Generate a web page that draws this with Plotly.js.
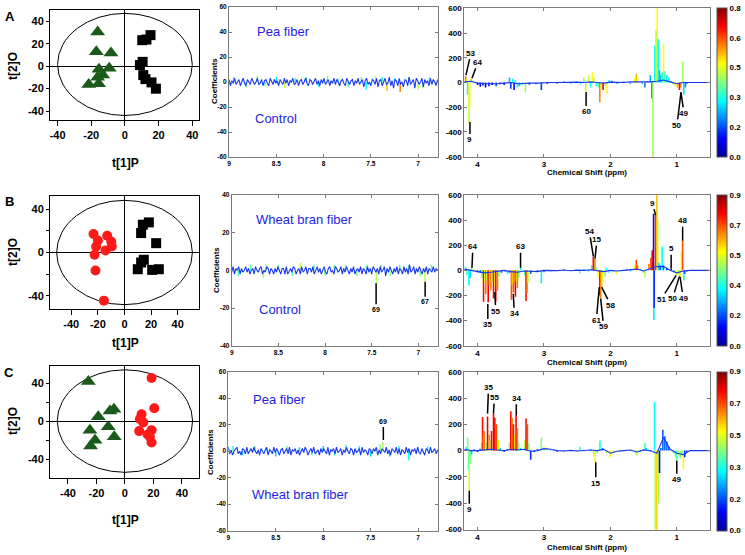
<!DOCTYPE html>
<html><head><meta charset="utf-8">
<script src="https://cdn.plot.ly/plotly-3.0.1.min.js"></script>
<style>html,body{margin:0;padding:0;background:#fff}#chart{width:745px;height:555px}</style>
</head><body><div id="chart"></div>
<script>
// ================= DATA =================
// Score plots (OPLS-DA): t[1]P vs t[2]O
const A_tri_x = [-16.2, -17.0, -8.3, -9.3, -15.4, -13.2, -16.2, -15.6, -21.5];
const A_tri_y = [30.5, 12.7, 11.8, -2.0, -2.7, -8.0, -10.0, -15.6, -16.4];
const A_sq_x  = [10.3, 12.8, 15.2, 10.5, 8.9, 10.9, 12.2, 15.8, 18.4];
const A_sq_y  = [23.1, 23.7, 27.6, 3.8, 0.9, -8.0, -11.6, -14.5, -20.1];
const B_circ_x = [-23.3, -20.0, -21.3, -22.5, -13.0, -10.0, -9.5, -14.3, -21.8, -15.5];
const B_circ_y = [17.0, 11.1, 5.5, -2.1, 15.4, 10.2, 5.5, 1.8, -16.6, -44.3];
const B_sq_x   = [13.8, 18.3, 12.5, 23.8, 14.5, 12.5, 10.0, 20.8, 25.8];
const B_sq_y   = [25.6, 27.7, 17.9, 8.6, -6.7, -9.2, -15.4, -16.0, -15.4];
const C_tri_x  = [-25.7, -18.7, -10.5, -7.7, -11.7, -24.6, -7.5, -21.0, -24.1];
const C_tri_y  = [41.7, 4.6, 10.6, 12.4, -6.0, -9.6, -16.6, -20.2, -26.2];
const C_circ_x = [18.7, 20.6, 11.7, 10.5, 12.9, 10.0, 15.9, 18.7, 17.5, 18.7];
const C_circ_y = [45.3, 13.4, 7.1, 2.1, -1.4, -10.6, -14.2, -9.6, -16.6, -22.6];
// Hotelling T2 ellipse bounds [x0, x1, y0, y1]
const A_ellipse = [-40, 40, -44, 47];
const B_ellipse = [-51, 51, -48, 48];
const C_ellipse = [-47.5, 47.5, -54, 54];

// Aromatic region (9.0 -> 6.8 ppm, 0.015 ppm bins) coefficients
const midA_noise = [
2,-3,1,-1,3,-2,0,2,-3,1,3,-1,-3,2,0,-2,3,1,-2,0,
3,-2,-1,2,-3,1,2,-1,-3,3,0,-2,2,-1,1,-3,2,0,-2,3,
-1,2,-3,1,0,3,-2,-1,2,-3,1,2,-2,0,3,-1,-3,2,1,-2,
0,3,-2,1,-3,2,-1,3,-2,0,2,-3,1,-1,3,-2,2,0,-3,1,
2,-1,-3,3,0,-2,1,2,-3,1,-1,3,-2,0,2,-4,1,3,-2,0,
-3,2,1,-2,3,-4,1,2,-3,0,3,-2,-1,4,-3,1,-5,2,1,-3,
3,-2,0,-4,2,1,-3,4,-2,0,2,-5,3,1,-2,0,3,-4,2,-1,
1,-3,3,-2,2,0,-3,2];
const midB_noise = [
-1,2,-2,1,0,2,-2,1,-1,0,2,-1,1,-2,0,1,-2,2,0,-1,
1,2,-2,0,-1,2,1,-2,1,0,-2,1,-1,2,0,-2,1,1,-2,2,
-2,0,1,-1,2,1,-2,0,1,-2,2,-1,0,2,-2,1,1,-1,2,-2,
0,2,-1,1,-2,0,2,-1,-2,1,2,-1,0,-2,2,1,-1,0,2,-2,
1,-1,2,0,-2,1,-1,2,-2,0,1,-1,2,-2,1,0,-2,2,-1,1,
-2,2,0,-1,1,-2,2,-1,0,2,-3,1,-1,2,0,-2,1,-1,2,-2,
1,0,-2,2,-1,1,-2,3,-1,0,2,-2,1,-1,2,0,-2,1,-1,2,
-2,1,0,-1,2,-1,1,0];
const midC_noise = [
3,-2,1,-3,0,2,3,-2,0,-3,2,1,-2,3,-2,0,2,-1,3,0,
-2,1,-3,2,0,-2,1,3,-3,1,0,-2,3,-1,2,0,-3,1,2,-2,
0,2,-2,3,-3,1,0,2,-2,1,-3,0,2,-1,3,1,-3,0,2,-1,
3,-2,0,1,-3,2,-1,2,0,-2,3,-3,1,0,2,-2,3,-1,0,2,
-3,1,-1,3,0,-2,2,1,-3,2,-1,0,2,-3,3,-1,1,0,-3,2,
1,-2,2,0,3,-3,1,-2,2,0,-1,3,-2,1,-3,2,0,-1,3,-2,
2,-3,1,0,-2,3,-1,2,-3,1,0,2,-2,3,-1,-2,2,0,-3,2,
1,-2,3,-1,0,2,-2,1];
const midA_spk_x = [8.95, 8.82, 8.7, 8.62, 8.5, 8.41, 8.3, 8.18, 8.05, 7.96, 7.85, 7.74, 7.6, 7.55, 7.45, 7.38, 7.33, 7.25, 7.19, 7.1, 7.0, 6.95, 6.88];
const midA_spk_y = [4, -4, 5, -3, 4, -5, 3, 4, -4, 5, 3, -4, 4, -6, 5, 4, -7, 3, -8, 4, -6, -5, 4];
const midA_spk_c = [0.35, 0.3, 0.4, 0.35, 0.3, 0.45, 0.3, 0.35, 0.3, 0.4, 0.3, 0.35, 0.4, 0.3, 0.45, 0.35, 0.55, 0.3, 0.6, 0.35, 0.45, 0.4, 0.35];
const midB_spk_x = [8.93, 8.8, 8.66, 8.63, 8.5, 8.35, 8.26, 8.12, 8.0, 7.9, 7.78, 7.66, 7.55, 7.45, 7.4, 7.3, 7.2, 7.1, 6.98, 6.93, 6.86];
const midB_spk_y = [-3, 3, -4, 3, 3, -3, 4, 3, -3, 3, 3, -3, 3, -7, 3, -3, 3, 3, -3, -6, 3];
const midB_spk_c = [0.4, 0.4, 0.5, 0.45, 0.4, 0.4, 0.5, 0.4, 0.45, 0.4, 0.4, 0.45, 0.4, 0.5, 0.4, 0.45, 0.4, 0.4, 0.45, 0.5, 0.4];
const midC_spk_x = [8.95, 8.85, 8.72, 8.6, 8.5, 8.38, 8.25, 8.12, 8.0, 7.88, 7.76, 7.62, 7.5, 7.4, 7.37, 7.3, 7.2, 7.1, 7.0, 6.9];
const midC_spk_y = [4, -3, 4, 3, -4, 4, 3, -3, 4, -3, 5, 4, -4, 5, 7, -4, 4, -7, 3, 4];
const midC_spk_c = [0.35, 0.3, 0.4, 0.35, 0.3, 0.45, 0.3, 0.35, 0.3, 0.35, 0.4, 0.35, 0.3, 0.45, 0.5, 0.3, 0.35, 0.35, 0.4, 0.35];

// Aliphatic region (4.2 -> 0.5 ppm): baseline (0.1 ppm steps) and peaks (ppm, coefficient, correlation)
const A_base = [5, 10, -5, -10, -8, -10, -5, 0, -10, -5, -5, -5, 0, 0, 0, 2, -2, 3, 0, 5, 0, -5, 3, 0, 0, 5, 5, 0, 5, 10, 20, 5, -10, 0, -3, 0, 0, 0];
const B_base = [10, 0, -10, -20, -15, -10, 0, -10, -15, -5, -5, -10, 0, -3, -2, 3, -3, 2, 0, 5, 0, -10, 0, -5, 0, 5, 10, -5, 10, 30, 30, 0, -20, -5, 0, 0, 0, 0];
const C_base = [10, 0, 0, 5, 10, 5, 0, 10, 5, 10, -5, 0, 15, 10, 0, -3, 2, -3, 0, 5, 0, 10, -20, -5, 0, 5, -10, 5, 0, -20, 100, 10, -20, -30, 0, 0, 0, 0];

const A_ppm  = [4.18, 4.165, 4.15, 4.13, 4.12, 4.10, 4.09, 4.0, 3.96, 3.92, 3.88, 3.83, 3.78, 3.72, 3.66, 3.6, 3.52, 3.50, 3.47, 3.45, 3.43, 3.40, 3.37, 3.33, 3.28, 3.22, 3.12, 3.04, 2.95, 2.8, 2.7, 2.6, 2.5, 2.45, 2.40, 2.37, 2.33, 2.30, 2.27, 2.25, 2.21, 2.18, 2.16, 2.14, 2.11, 2.07, 2.05, 2.02, 1.98, 1.9, 1.8, 1.7, 1.63, 1.61, 1.59, 1.52, 1.48, 1.44, 1.40, 1.37, 1.36, 1.33, 1.31, 1.295, 1.28, 1.26, 1.24, 1.22, 1.20, 1.18, 1.15, 1.12, 1.08, 1.05, 1.02, 0.99, 0.96, 0.94, 0.91, 0.895, 0.87, 0.85, 0.8];
const A_coef = [50, 30, -100, -330, -200, 30, 20, -20, -35, -25, -40, -30, -20, -30, -15, -20, 40, -50, 30, -60, 20, -40, -30, -20, -80, -20, -15, -60, -10, -8, 8, -10, 10, -15, 40, -70, 60, -40, 80, 40, -30, -40, -160, -60, -60, -30, -90, 20, 15, -10, 10, -10, 40, 70, 40, -10, -40, 10, 60, -130, -650, 300, 420, 650, 350, 100, 60, 80, 310, 90, 60, 40, 15, -20, -35, -45, -60, -40, 170, -100, -40, -10, -5];
const A_corr = [0.62, 0.5, 0.3, 0.45, 0.5, 0.55, 0.4, 0.1, 0.1, 0.12, 0.1, 0.12, 0.1, 0.15, 0.1, 0.1, 0.25, 0.15, 0.3, 0.1, 0.3, 0.3, 0.25, 0.35, 0.42, 0.2, 0.2, 0.15, 0.1, 0.1, 0.2, 0.25, 0.3, 0.3, 0.42, 0.45, 0.45, 0.3, 0.5, 0.45, 0.3, 0.4, 0.6, 0.45, 0.7, 0.4, 0.5, 0.3, 0.2, 0.2, 0.25, 0.2, 0.5, 0.55, 0.5, 0.2, 0.2, 0.2, 0.25, 0.1, 0.42, 0.3, 0.4, 0.5, 0.3, 0.25, 0.25, 0.3, 0.5, 0.35, 0.3, 0.3, 0.3, 0.45, 0.5, 0.55, 0.7, 0.6, 0.42, 0.28, 0.2, 0.15, 0.1];

const B_ppm  = [4.18, 4.16, 4.13, 4.11, 4.09, 4.06, 4.0, 3.96, 3.93, 3.91, 3.89, 3.876, 3.86, 3.84, 3.82, 3.80, 3.78, 3.76, 3.74, 3.726, 3.70, 3.68, 3.64, 3.58, 3.55, 3.52, 3.49, 3.475, 3.46, 3.445, 3.43, 3.415, 3.40, 3.38, 3.35, 3.29, 3.27, 3.255, 3.24, 3.2, 3.1, 3.04, 3.0, 2.9, 2.8, 2.7, 2.6, 2.5, 2.46, 2.4, 2.33, 2.28, 2.257, 2.232, 2.21, 2.18, 2.16, 2.146, 2.131, 2.11, 2.08, 2.06, 2.03, 1.95, 1.91, 1.85, 1.75, 1.7, 1.64, 1.61, 1.59, 1.55, 1.50, 1.48, 1.45, 1.42, 1.39, 1.37, 1.35, 1.345, 1.34, 1.32, 1.30, 1.285, 1.27, 1.25, 1.22, 1.2, 1.15, 1.085, 1.04, 1.01, 0.98, 0.96, 0.95, 0.93, 0.912, 0.895, 0.88, 0.85];
const B_coef = [30, -40, -120, -60, 30, 15, -15, -20, -60, -250, -100, -190, -80, -255, -120, -160, -90, -225, -130, -250, -160, -50, -20, -10, -30, -20, -235, -120, -175, -100, -210, -90, -140, -60, 20, -40, -245, -180, -100, -30, -10, -105, -15, -8, -5, 6, -6, 5, -30, 10, -10, 40, 110, 90, 20, -60, -200, -230, -135, -90, -50, 20, -20, -10, -30, -5, 8, -8, 40, 85, 40, 10, -20, -55, 10, 50, 100, 160, 450, -395, -300, 440, 650, 400, 60, 40, 190, 40, 20, 13, -15, -40, -30, -50, -53, 150, 235, -80, -30, -10];
const B_corr = [0.34, 0.4, 0.34, 0.3, 0.45, 0.56, 0.15, 0.2, 0.45, 0.78, 0.56, 0.68, 0.5, 0.8, 0.6, 0.68, 0.5, 0.78, 0.6, 0.8, 0.68, 0.45, 0.2, 0.15, 0.34, 0.2, 0.72, 0.56, 0.72, 0.6, 0.8, 0.56, 0.68, 0.45, 0.34, 0.4, 0.78, 0.68, 0.5, 0.2, 0.15, 0.34, 0.2, 0.15, 0.15, 0.2, 0.2, 0.3, 0.45, 0.34, 0.3, 0.34, 0.78, 0.68, 0.45, 0.56, 0.78, 0.68, 0.6, 0.56, 0.45, 0.34, 0.34, 0.3, 0.56, 0.2, 0.2, 0.3, 0.56, 0.72, 0.68, 0.3, 0.4, 0.5, 0.3, 0.68, 0.72, 0.78, 0.12, 0.32, 0.15, 0.75, 0.62, 0.5, 0.3, 0.2, 0.34, 0.2, 0.15, 0.15, 0.3, 0.56, 0.5, 0.45, 0.56, 0.56, 0.72, 0.34, 0.2, 0.15];

const C_ppm  = [4.17, 4.15, 4.135, 4.125, 4.11, 4.09, 4.05, 4.0, 3.96, 3.94, 3.925, 3.91, 3.90, 3.87, 3.85, 3.826, 3.81, 3.79, 3.76, 3.74, 3.716, 3.69, 3.66, 3.6, 3.55, 3.52, 3.50, 3.48, 3.46, 3.44, 3.42, 3.40, 3.38, 3.35, 3.29, 3.27, 3.25, 3.23, 3.20, 3.15, 3.1, 3.04, 3.0, 2.95, 2.9, 2.8, 2.7, 2.6, 2.5, 2.456, 2.4, 2.3, 2.25, 2.23, 2.2, 2.157, 2.12, 2.06, 2.0, 1.95, 1.85, 1.7, 1.62, 1.6, 1.55, 1.5, 1.48, 1.46, 1.4, 1.335, 1.325, 1.30, 1.28, 1.26, 1.24, 1.21, 1.18, 1.15, 1.12, 1.05, 1.02, 1.0, 0.98, 0.95, 0.92, 0.9, 0.88, 0.85];
const C_coef = [30, 100, -150, -306, -100, -30, 10, -10, 15, 60, 255, 120, 150, 60, 260, 120, 80, 150, 280, 250, 200, 80, 20, -10, 10, 60, 300, 250, 200, 120, 270, 170, 60, 20, 80, 245, 200, 60, -70, -10, 10, 100, 30, 20, 10, -8, -5, 5, -5, 30, -5, 10, -40, -90, -20, 77, 20, -20, -50, -20, -5, 5, -20, -40, -10, 10, 60, 20, -5, 370, -650, -650, -400, -170, 20, 158, 110, 70, 30, -20, -50, -77, -40, -60, -30, -140, -50, -10];
const C_corr = [0.34, 0.45, 0.34, 0.52, 0.45, 0.3, 0.2, 0.15, 0.2, 0.45, 0.78, 0.6, 0.68, 0.45, 0.8, 0.68, 0.5, 0.78, 0.8, 0.78, 0.72, 0.56, 0.3, 0.15, 0.2, 0.45, 0.78, 0.68, 0.78, 0.6, 0.8, 0.68, 0.45, 0.3, 0.5, 0.78, 0.72, 0.45, 0.15, 0.15, 0.2, 0.45, 0.5, 0.45, 0.4, 0.15, 0.15, 0.2, 0.2, 0.4, 0.3, 0.3, 0.5, 0.56, 0.4, 0.34, 0.2, 0.5, 0.56, 0.45, 0.2, 0.2, 0.4, 0.5, 0.3, 0.2, 0.4, 0.3, 0.15, 0.34, 0.5, 0.6, 0.5, 0.12, 0.2, 0.2, 0.2, 0.2, 0.2, 0.4, 0.45, 0.4, 0.5, 0.45, 0.4, 0.56, 0.15, 0.15];

// Colour bar scales
const A_cmax = 0.8, B_cmax = 0.9, C_cmax = 0.9;
const A_cbar_text = ['0.0', '0.2', '0.3', '0.5', '0.6', '0.8'];
const B_cbar_text = ['0.0', '0.2', '0.4', '0.5', '0.7', '0.9'];
const C_cbar_text = ['0.0', '0.2', '0.3', '0.5', '0.7', '0.9'];

// Peak labels: text, ppm, coefficient
const A_lab_text = ['53', '64', '9', '60', '50', '49'];
const A_lab_ppm  = [4.175, 4.085, 4.115, 2.366, 0.937, 0.937];
const A_lab_val  = [59, 35, -319, -76, -79, -79];
const B_lab_text = ['64', '63', '35', '55', '34', '54', '15', '61', '59', '58', '9', '48', '5', '51', '50', '49'];
const B_lab_ppm  = [4.085, 3.353, 3.846, 3.741, 3.462, 2.257, 2.232, 2.167, 2.146, 2.131, 1.32, 0.912, 1.085, 1.01, 0.96, 0.95];
const B_lab_val  = [21, 21, -267, -173, -187, 112, 93, -133, -227, -133, 440, 235, 13, -40, -48, -53];
const C_lab_text = ['35', '55', '34', '9', '15', '49'];
const C_lab_ppm  = [3.85, 3.761, 3.417, 4.125, 2.22, 1.0];
const C_lab_val  = [281, 281, 268, -306, -89, -77];
const midB_lab_text = ['69', '67'];
const midB_lab_ppm  = [7.453, 6.928];
const midB_lab_val  = [-6.9, -6];
const midC_lab_text = ['69'];
const midC_lab_ppm  = [7.366];
const midC_lab_val  = [8.5];

// ================= LAYOUT / STYLE =================
const W = 745, H = 555;
const FONT = 'Arial, "Liberation Sans", sans-serif';
const jet = [[0,'#00008f'],[0.125,'#0000ff'],[0.375,'#00ffff'],[0.625,'#ffff00'],[0.875,'#ff0000'],[1,'#800000']];
const BLUE_LINE = '#1838f0';
const fx = p => p / W, fy = p => 1 - p / H;

// pixel boxes [left, right, top, bottom]
const scoreBox = [[50,199,10,120],[50,199,196,309],[50,199,366,478]];
const midBox   = [[229,438,7,157],[231.7,438,195,345.7],[228.3,438,371.7,530.7]];
const rightBox = [[464.3,710,8.3,156.7],[464.3,710,195,345.7],[464.3,710,371.7,529.5]];
const cbarBox  = [[8,157],[195,345.7],[371.7,530.5]];

const scoreXR = [[-44.5,44],[-56,56],[-52.6,52]];
const scoreYR = [[-48,50],[-52,52],[-60,58]];
const scoreYText = [['-40','-20','0','20','40'],['-40','','0','','40'],['-40','','0','','40']];
const ellipses = [A_ellipse, B_ellipse, C_ellipse];
const scoreSets = [
  [{x:A_tri_x,y:A_tri_y,s:'triangle-up',c:'#1a5a1a',z:13},{x:A_sq_x,y:A_sq_y,s:'square',c:'#000',z:10}],
  [{x:B_circ_x,y:B_circ_y,s:'circle',c:'#ff1a1a',z:10},{x:B_sq_x,y:B_sq_y,s:'square',c:'#000',z:10}],
  [{x:C_tri_x,y:C_tri_y,s:'triangle-up',c:'#1a5a1a',z:13},{x:C_circ_x,y:C_circ_y,s:'circle',c:'#ff1a1a',z:10}]
];
const midNoise = [midA_noise, midB_noise, midC_noise];
const midSpk = [[midA_spk_x,midA_spk_y,midA_spk_c],[midB_spk_x,midB_spk_y,midB_spk_c],[midC_spk_x,midC_spk_y,midC_spk_c]];
const midYR = [[-60,60],[-40,40],[-60,60]];
const midYT = [[-60,-40,-20,0,20,40,60],[-40,-20,0,20,40],[-60,-40,-20,0,20,40,60]];
const bases = [A_base, B_base, C_base];
const peaks = [[A_ppm,A_coef,A_corr],[B_ppm,B_coef,B_corr],[C_ppm,C_coef,C_corr]];
const cmaxes = [A_cmax, B_cmax, C_cmax];
const cbarTexts = [A_cbar_text, B_cbar_text, C_cbar_text];
const labels = [[A_lab_text,A_lab_ppm,A_lab_val],[B_lab_text,B_lab_ppm,B_lab_val],[C_lab_text,C_lab_ppm,C_lab_val]];
// label text offsets (px) relative to labelled point
const labOff = [
  [[5,-22],[6,-16],[0,18],[0,20],[-4,33],[3,21]],
  [[1,-21],[0,-21],[0,21],[1,19],[1,20],[-4,-25],[2,-19],[-3,33],[3,28],[9,18],[-3,-12],[0,-20],[0,-20],[-15,24],[-7,22],[3,21]],
  [[1,-26],[1,-16],[0,-17],[0,19],[0,21],[0,19]]
];
const midLabels = [null, [midB_lab_text,midB_lab_ppm,midB_lab_val], [midC_lab_text,midC_lab_ppm,midC_lab_val]];
const midLabOff = [null, [[0,26],[0,20]], [[0,-18]]];

const layout = {
  width: W, height: H, margin:{l:0,r:0,t:0,b:0},
  paper_bgcolor:'white', plot_bgcolor:'white', showlegend:false, barmode:'overlay',
  font:{family:FONT, color:'black'}, shapes:[], annotations:[]
};
const traces = [];
const sfx = n => n === 1 ? '' : String(n);
const tt = arr => arr.map(v => String(v));

for (let r = 0; r < 3; r++) {
  // ---------- score plot ----------
  let n = r*3+1, s = sfx(n), b = scoreBox[r];
  layout['xaxis'+s] = {domain:[fx(b[0]),fx(b[1])], anchor:'y'+s, range:scoreXR[r],
    showline:true, mirror:true, linecolor:'#000', linewidth:1, ticks:'outside', ticklen:5, tickcolor:'#000',
    tickvals:[-40,-20,0,20,40], ticktext:['-40','-20','0','20','40'], showgrid:false,
    zeroline:true, zerolinecolor:'#000', zerolinewidth:1,
    tickfont:{size:11, weight:'bold', family:FONT, color:'#000'}};
  layout['yaxis'+s] = {domain:[fy(b[3]),fy(b[2])], anchor:'x'+s, range:scoreYR[r],
    showline:true, mirror:true, linecolor:'#000', linewidth:1, ticks:'outside', ticklen:3, tickcolor:'#000',
    tickvals:[-40,-20,0,20,40], ticktext:scoreYText[r], showgrid:false,
    zeroline:true, zerolinecolor:'#000', zerolinewidth:1,
    tickfont:{size:11, weight:'bold', family:FONT, color:'#000'}};
  scoreSets[r].forEach(g => traces.push({type:'scatter', mode:'markers', x:g.x, y:g.y, xaxis:'x'+s, yaxis:'y'+s,
    marker:{symbol:g.s, color:g.c, size:g.z, line:{width:0}}, hoverinfo:'skip'}));
  const e = ellipses[r];
  layout.shapes.push({type:'circle', xref:'x'+s, yref:'y'+s, x0:e[0], x1:e[1], y0:e[2], y1:e[3],
    line:{color:'#000', width:1}, layer:'below'});

  // ---------- aromatic loading plot ----------
  n = r*3+2; s = sfx(n); b = midBox[r];
  layout['xaxis'+s] = {domain:[fx(b[0]),fx(b[1])], anchor:'y'+s, range:[9,6.79],
    showline:true, mirror:'ticks', linecolor:'#7a7a7a', linewidth:1, ticks:'inside', ticklen:3, tickcolor:'#7a7a7a',
    tickvals:[9,8.5,8,7.5,7], ticktext:['9','8.5','8','7.5','7'], showgrid:false, zeroline:false,
    tickfont:{size:6.5, weight:'bold', family:FONT, color:'#000'}};
  layout['yaxis'+s] = {domain:[fy(b[3]),fy(b[2])], anchor:'x'+s, range:midYR[r],
    showline:true, mirror:'ticks', linecolor:'#7a7a7a', linewidth:1, ticks:'inside', ticklen:3, tickcolor:'#7a7a7a',
    tickvals:midYT[r], ticktext:tt(midYT[r]), showgrid:false, zeroline:false,
    tickfont:{size:6.5, weight:'bold', family:FONT, color:'#000'}};
  traces.push({type:'bar', x:midSpk[r][0], y:midSpk[r][1], width:0.016, xaxis:'x'+s, yaxis:'y'+s,
    marker:{color:midSpk[r][2], colorscale:jet, cmin:0, cmax:cmaxes[r], showscale:false, line:{width:0}}, hoverinfo:'skip'});
  traces.push({type:'scatter', mode:'lines', x0:9, dx:-0.015, y:midNoise[r], xaxis:'x'+s, yaxis:'y'+s,
    line:{color:BLUE_LINE, width:1.1}, hoverinfo:'skip'});
  if (midLabels[r]) {
    const L = midLabels[r];
    L[0].forEach((t,i) => layout.annotations.push({xref:'x'+s, yref:'y'+s, x:L[1][i], y:L[2][i], text:t,
      showarrow:true, arrowhead:0, arrowwidth:1.5, arrowcolor:'#000', ax:midLabOff[r][i][0], ay:midLabOff[r][i][1],
      standoff:0, font:{size:7, weight:'bold', family:FONT, color:'#000'}}));
  }

  // ---------- aliphatic loading plot ----------
  n = r*3+3; s = sfx(n); b = rightBox[r];
  const yv = [-600,-400,-200,0,200,400,600];
  layout['xaxis'+s] = {domain:[fx(b[0]),fx(b[1])], anchor:'y'+s, range:[4.2,0.5],
    showline:true, mirror:'ticks', linecolor:'#7a7a7a', linewidth:1, ticks:'inside', ticklen:3, tickcolor:'#7a7a7a',
    tickvals:[4,3,2,1], ticktext:['4','3','2','1'], showgrid:false, zeroline:false,
    tickfont:{size:8, weight:'bold', family:FONT, color:'#000'}};
  layout['yaxis'+s] = {domain:[fy(b[3]),fy(b[2])], anchor:'x'+s, range:[-600,600],
    showline:true, mirror:'ticks', linecolor:'#7a7a7a', linewidth:1, ticks:'inside', ticklen:3, tickcolor:'#7a7a7a',
    tickvals:yv, ticktext:tt(yv), showgrid:false, zeroline:false,
    tickfont:{size:8, weight:'bold', family:FONT, color:'#000'}};
  const cb = cbarBox[r], cm = cmaxes[r];
  traces.push({type:'bar', x:peaks[r][0], y:peaks[r][1], width:0.024, xaxis:'x'+s, yaxis:'y'+s,
    marker:{color:peaks[r][2], colorscale:jet, cmin:0, cmax:cm, showscale:true, line:{width:0},
      colorbar:{x:fx(716.7), xanchor:'left', y:fy((cb[0]+cb[1])/2), yanchor:'middle',
        len:cb[1]-cb[0], lenmode:'pixels', thickness:10, thicknessmode:'pixels',
        outlinewidth:1, outlinecolor:'#555', xpad:0, ypad:0, ticks:'',
        tickvals:[0,cm*0.2,cm*0.4,cm*0.6,cm*0.8,cm], ticktext:cbarTexts[r],
        tickfont:{size:8, weight:'bold', family:FONT, color:'#000'}}}, hoverinfo:'skip'});
  traces.push({type:'scatter', mode:'lines', x0:4.2, dx:-0.1, y:bases[r], xaxis:'x'+s, yaxis:'y'+s,
    line:{color:BLUE_LINE, width:1.1}, hoverinfo:'skip'});
  const L = labels[r];
  L[0].forEach((t,i) => layout.annotations.push({xref:'x'+s, yref:'y'+s, x:L[1][i], y:L[2][i], text:t,
    showarrow:true, arrowhead:0, arrowwidth:1.5, arrowcolor:'#000', ax:labOff[r][i][0], ay:labOff[r][i][1],
    standoff:0, font:{size:8, weight:'bold', family:FONT, color:'#000'}}));
}

// ---------- text annotations (paper, pixel placed) ----------
function txt(t, x, y, o) {
  layout.annotations.push(Object.assign({xref:'paper', yref:'paper', x:fx(x), y:fy(y), text:t, showarrow:false,
    xanchor:'center', yanchor:'middle', font:{family:FONT, size:12, color:'#000', weight:'bold'}}, o||{}));
}
const panelLab = [['A',10,16],['B',9,201],['C',9,372]];
panelLab.forEach(p => txt(p[0], p[1], p[2], {font:{family:FONT, size:13, weight:'bold', color:'#000'}}));
[[66],[252],[421]].forEach(p => txt('t[2]O', 13, p[0], {textangle:-90}));
[[163],[343],[520]].forEach(p => txt('t[1]P', 125, p[0]));
const blueFont = {family:FONT, size:13, color:'#1e1ee0'};
txt('Pea fiber', 255, 32, {xanchor:'left', font:blueFont});
txt('Control', 253, 118, {xanchor:'left', font:blueFont});
txt('Wheat bran fiber', 254, 220, {xanchor:'left', font:blueFont});
txt('Control', 256.7, 309.5, {xanchor:'left', font:blueFont});
txt('Pea fiber', 251, 399, {xanchor:'left', font:blueFont});
txt('Wheat bran fiber', 250, 494, {xanchor:'left', font:blueFont});
[[214,81],[216,270],[210,452]].forEach(p => txt('Coefficients', p[0], p[1], {textangle:-90, font:{family:FONT, size:8, weight:'bold', color:'#000'}}));
[[173],[362],[547]].forEach(p => txt('Chemical Shift (ppm)', 587, p[0], {font:{family:FONT, size:8, weight:'bold', color:'#000'}}));

Plotly.newPlot('chart', traces, layout, {displayModeBar:false, staticPlot:true});
</script></body></html>
